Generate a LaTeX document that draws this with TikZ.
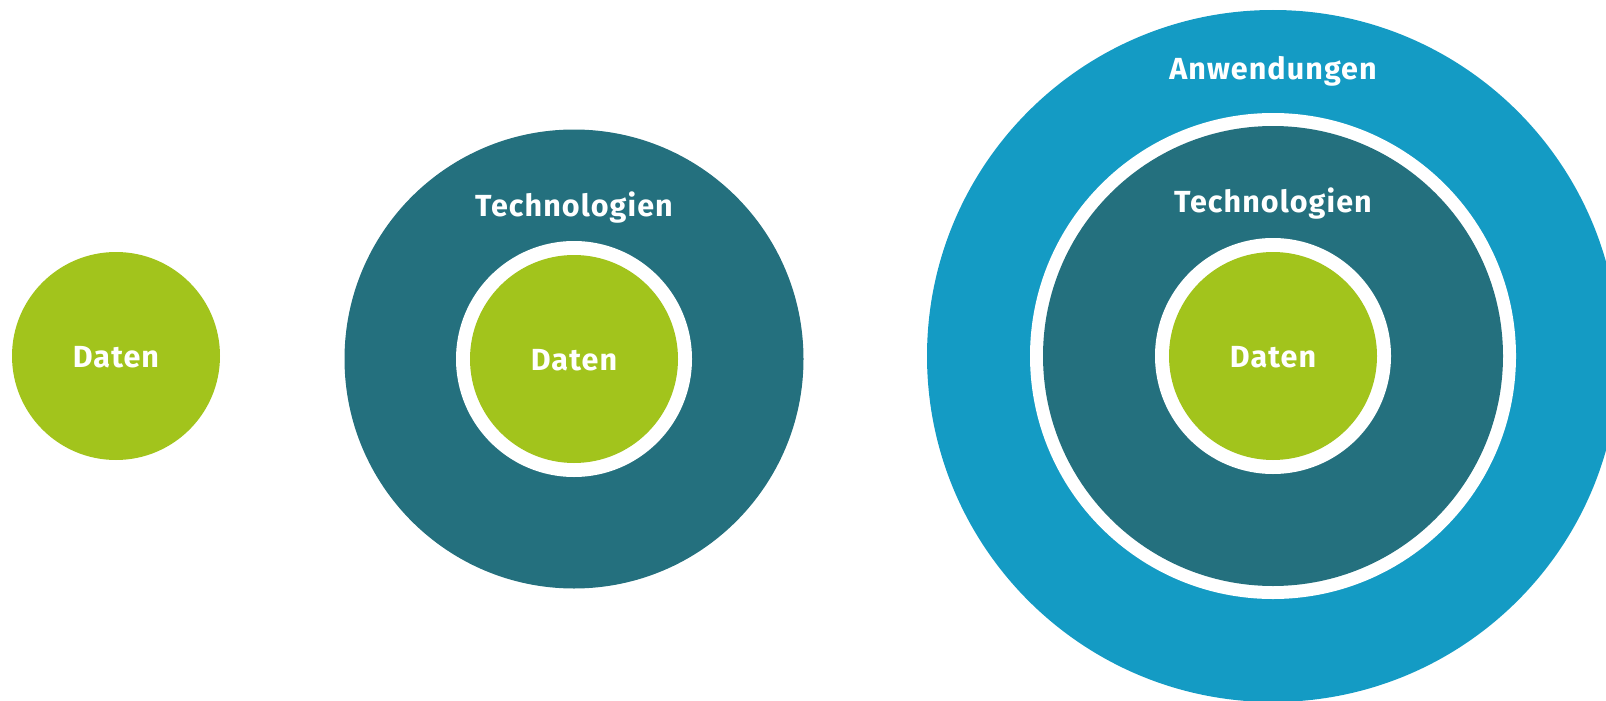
\documentclass[tikz,border=0pt]{standalone}
\usepackage{fontspec}
\setmainfont{Fira Sans}[LetterSpace=3.5]
\definecolor{cgreen}{HTML}{A2C41C}
\definecolor{cteal}{HTML}{24707E}
\definecolor{cblue}{HTML}{149BC4}
\tikzset{
  disc/.style={circle, inner sep=0pt, outer sep=0pt, minimum size=#1},
  lbl/.style={text=white, anchor=base, inner sep=0pt, font=\fontsize{30.5}{36}\selectfont\bfseries}
}
\begin{document}
\begin{tikzpicture}[x=1pt,y=-1pt]
\useasboundingbox (0,0) rectangle (1606,701);
\clip (0,0) rectangle (1606,701);
% circle 1
\node[disc=208, fill=cgreen] (d1) at (116,356) {};
\node[lbl] (t1) at (116,367.5) {Daten};
% circle 2
\node[disc=459, fill=cteal] (c2) at (574,359) {};
\node[disc=236, fill=white] (w2) at (574,359) {};
\node[disc=208, fill=cgreen] (d2) at (574,359) {};
\node[lbl] (tt2) at (574,216) {Technologien};
\node[lbl] (t2) at (574,370.5) {Daten};
% circle 3
\node[disc=692, fill=cblue] (a3) at (1273,356) {};
\node[disc=486, fill=white] (wo3) at (1273,356) {};
\node[disc=460, fill=cteal] (c3) at (1273,356) {};
\node[disc=236, fill=white] (wi3) at (1273,356) {};
\node[disc=208, fill=cgreen] (d3) at (1273,356) {};
\node[lbl] (ta3) at (1273,80) {Anwendungen};
\node[lbl] (tt3) at (1273,212) {Technologien};
\node[lbl] (t3) at (1273,367.5) {Daten};
\end{tikzpicture}
\end{document}
